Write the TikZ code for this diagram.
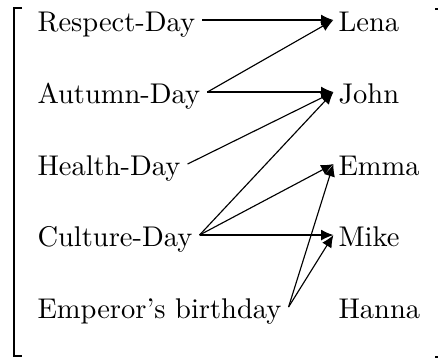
\documentclass[tikz,border=0pt]{standalone}
\usetikzlibrary{arrows.meta}
\begin{document}
\begin{tikzpicture}[x=0.3509pt, y=-0.3509pt,
  item/.style={inner sep=0pt, text height=7.7pt, text depth=0pt, anchor=base west},
  src/.style={item, inner xsep=2.3pt},
  dst/.style={item, inner xsep=1.6pt},
  link/.style={-{Latex[length=4.3pt,width=3.8pt]}, line width=0.4pt},
  bracket/.style={line width=0.6pt}]
\useasboundingbox (0,0) rectangle (438,358);

% holidays
\node[src] (respect) at (30.4,31)  {Respect-Day};
\node[src] (autumn)  at (30.4,103) {Autumn-Day};
\node[src] (health)  at (30.4,175) {Health-Day};
\node[src] (culture) at (30.4,246) {Culture-Day};
\node[src] (emperor) at (30.4,318) {Emperor's birthday};

% people
\node[dst] (lena)  at (333.4,31)  {Lena};
\node[dst] (john)  at (333.4,103) {John};
\node[dst] (emma)  at (333.4,175) {Emma};
\node[dst] (mike)  at (333.4,246) {Mike};
\node[dst] (hanna) at (333.4,318) {Hanna};

% relation
\draw[link] (respect.east) -- (lena.west);
\draw[link] (autumn.east)  -- (lena.west);
\draw[link] (autumn.east)  -- (john.west);
\draw[link] (health.east)  -- (john.west);
\draw[link] (culture.east) -- (john.west);
\draw[link] (culture.east) -- (emma.west);
\draw[link] (culture.east) -- (mike.west);
\draw[link] (emperor.east) -- (emma.west);
\draw[link] (emperor.east) -- (mike.west);

% enclosing brackets
\draw[bracket] (22,8) -- (14,8) -- (14,356) -- (22,356);
\draw[bracket] (435,9) -- (440,9);
\draw[bracket] (435,357) -- (440,357);
\end{tikzpicture}
\end{document}
